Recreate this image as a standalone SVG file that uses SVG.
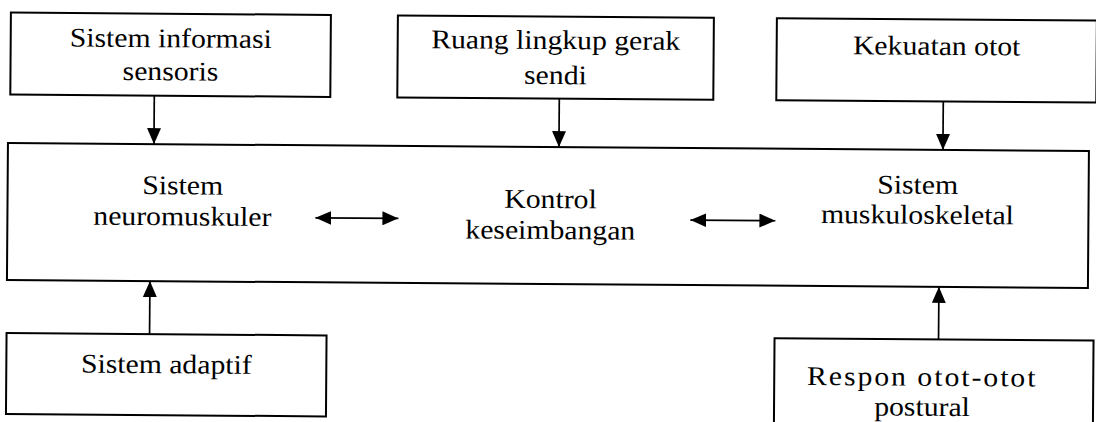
<svg xmlns="http://www.w3.org/2000/svg" width="1096" height="422" viewBox="0 0 1096 422">
  <style>
    .box { fill: #ffffff; stroke: #000000; stroke-width: 2; }
    .lbl { font-family: "Liberation Serif", "Times New Roman", serif; font-size: 27px; fill: #000000; text-anchor: middle; }
    .link { fill: none; stroke: #000000; stroke-width: 1.7; }
  </style>
  <defs>
    <marker id="head" viewBox="0 0 16 14" refX="16" refY="7" markerWidth="16" markerHeight="14" markerUnits="userSpaceOnUse" orient="auto-start-reverse">
      <path d="M0,0 L16,7 L0,14 z" fill="#000000"/>
    </marker>
  </defs>
  <rect x="0" y="0" width="1096" height="422" fill="#ffffff"/>
  <g transform="rotate(0.42)">
    <!-- central block -->
    <g id="kontrol-keseimbangan">
      <rect class="box" x="9" y="143" width="1081" height="137"/>
      <text class="lbl" transform="translate(184 0) scale(1.1 1)" y="193">Sistem</text>
      <text class="lbl" transform="translate(184 0) scale(1.1 1)" y="224">neuromuskuler</text>
      <text class="lbl" transform="translate(552 0) scale(1.1 1)" y="204">Kontrol</text>
      <text class="lbl" transform="translate(552 0) scale(1.1 1)" y="235">keseimbangan</text>
      <text class="lbl" transform="translate(919 0) scale(1.1 1)" y="187">Sistem</text>
      <text class="lbl" transform="translate(919 0) scale(1.1 1)" y="217">muskuloskeletal</text>
    </g>
    <!-- input factors, top row -->
    <g id="sistem-informasi-sensoris">
      <rect class="box" x="11" y="12.5" width="320" height="82"/>
      <text class="lbl" transform="translate(171 0) scale(1.1 1)" y="46">Sistem informasi</text>
      <text class="lbl" transform="translate(171 0) scale(1.1 1)" y="79">sensoris</text>
    </g>
    <g id="ruang-lingkup-gerak-sendi">
      <rect class="box" x="398" y="12.5" width="316" height="82"/>
      <text class="lbl" transform="translate(556 0) scale(1.1 1)" y="45">Ruang lingkup gerak</text>
      <text class="lbl" transform="translate(556 0) scale(1.1 1)" y="80">sendi</text>
    </g>
    <g id="kekuatan-otot">
      <rect class="box" x="777" y="12.5" width="320" height="82"/>
      <text class="lbl" transform="translate(937 0) scale(1.1 1)" y="48">Kekuatan otot</text>
    </g>
    <!-- input factors, bottom row -->
    <g id="sistem-adaptif">
      <rect class="box" x="9" y="333" width="320" height="81"/>
      <text class="lbl" transform="translate(169 0) scale(1.1 1)" y="372">Sistem adaptif</text>
    </g>
    <g id="respon-otot-postural">
      <rect class="box" x="777" y="332.5" width="319" height="95"/>
      <text class="lbl" transform="translate(925 0) scale(1.1 1)" y="379" letter-spacing="1.8">Respon otot-otot</text>
      <text class="lbl" transform="translate(925 0) scale(1.1 1)" y="409">postural</text>
    </g>
    <!-- connectors -->
    <g id="connectors">
      <line class="link" x1="155" y1="94.5" x2="155" y2="143" marker-end="url(#head)"/>
      <line class="link" x1="560" y1="94.5" x2="560" y2="143" marker-end="url(#head)"/>
      <line class="link" x1="944" y1="94.5" x2="944" y2="143" marker-end="url(#head)"/>
      <line class="link" x1="152" y1="333" x2="152" y2="280" marker-end="url(#head)"/>
      <line class="link" x1="941" y1="332.5" x2="941" y2="280" marker-end="url(#head)"/>
      <line class="link" x1="317" y1="215.5" x2="400" y2="215.5" marker-start="url(#head)" marker-end="url(#head)"/>
      <line class="link" x1="692" y1="215" x2="777" y2="215" marker-start="url(#head)" marker-end="url(#head)"/>
    </g>
  </g>
</svg>
